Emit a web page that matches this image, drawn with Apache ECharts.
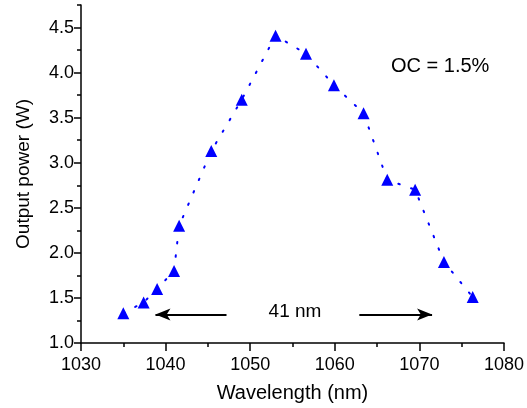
<!DOCTYPE html>
<html>
<head>
<meta charset="utf-8">
<script src="https://cdn.jsdelivr.net/npm/echarts@6/dist/echarts.min.js"></script>
<style>
  html, body { margin: 0; padding: 0; background: #fff; }
  #chart { width: 527px; height: 408px; }
</style>
</head>
<body>
<div id="chart"></div>
<script>
// wavelength (nm) and output power (W)
const wavelength = [1035.0, 1037.4, 1039.0, 1041.0, 1041.6, 1045.4, 1049.0, 1053.0, 1056.6, 1059.9, 1063.4, 1066.2, 1069.5, 1072.9, 1076.3];
const power      = [1.33, 1.45, 1.60, 1.80, 2.30, 3.13, 3.70, 4.41, 4.21, 3.86, 3.55, 2.81, 2.70, 1.90, 1.51];

const xTicks = [1030, 1040, 1050, 1060, 1070, 1080];
const yMajorTicks = [1.0, 1.5, 2.0, 2.5, 3.0, 3.5, 4.0, 4.5];

// the two arrows marking the 41 nm span
const arrowY = 1.316;
const leftArrow = [1047.2, 1038.8];
const rightArrow = [1062.9, 1071.5];

const FONT = 'Liberation Sans, Arial, sans-serif';

const chart = echarts.init(document.getElementById('chart'));

chart.setOption({
  animation: false,
  grid: { left: 81, right: 23, top: 5, bottom: 64 },
  xAxis: {
    type: 'value',
    min: xTicks[0],
    max: xTicks[xTicks.length - 1],
    interval: 10,
    name: 'Wavelength (nm)',
    nameLocation: 'middle',
    nameGap: 40,
    nameTextStyle: { color: '#000', fontSize: 20, fontFamily: FONT },
    axisLine: { lineStyle: { color: '#000', width: 1.5 } },
    axisTick: { length: 8, lineStyle: { color: '#000', width: 1.5 } },
    minorTick: { show: true, splitNumber: 2, length: 4, lineStyle: { color: '#000', width: 1.5 } },
    axisLabel: { color: '#000', fontSize: 18, fontFamily: FONT, margin: 13, formatter: v => String(v) },
    splitLine: { show: false }
  },
  yAxis: [{
    type: 'value',
    min: 1,
    max: 4.75,
    interval: 0.25,
    name: 'Output power (W)',
    nameLocation: 'middle',
    nameGap: 48,
    nameTextStyle: { color: '#000', fontSize: 19, fontFamily: FONT },
    axisLine: { show: true, lineStyle: { color: '#000', width: 1.5 } },
    axisTick: { length: 4, lineStyle: { color: '#000', width: 1.5 } },
    axisLabel: {
      color: '#000', fontSize: 18, fontFamily: FONT, margin: 7,
      formatter: v => (yMajorTicks.some(t => Math.abs(t - v) < 1e-6) ? v.toFixed(1) : '')
    },
    splitLine: { show: false }
  }, {
    // only carries the longer major ticks
    type: 'value',
    position: 'left',
    min: 1,
    max: 4.75,
    axisLine: { show: false },
    axisTick: { show: true, length: 7, customValues: yMajorTicks, lineStyle: { color: '#000', width: 1.5 } },
    axisLabel: { show: false },
    splitLine: { show: false }
  }],
  series: [{
    type: 'line',
    data: wavelength.map((w, i) => [w, power[i]]),
    symbol: 'triangle',
    symbolSize: 12,
    itemStyle: { color: '#0000ff' },
    lineStyle: { color: '#0000ff', width: 2, type: [1.5, 12], cap: 'round' },
    markLine: {
      silent: true,
      symbol: ['none', 'arrow'],
      symbolSize: [9, 15],
      label: { show: false },
      lineStyle: { color: '#000', width: 2, type: 'solid' },
      data: [
        [{ coord: [leftArrow[0], arrowY] }, { coord: [leftArrow[1], arrowY] }],
        [{ coord: [rightArrow[0], arrowY] }, { coord: [rightArrow[1], arrowY] }]
      ]
    }
  }],
  graphic: [{
    type: 'text',
    x: 391, y: 66,
    style: { text: 'OC = 1.5%', fill: '#000', font: '20px ' + FONT, textVerticalAlign: 'middle' }
  }, {
    type: 'text',
    x: 295, y: 312,
    style: { text: '41 nm', fill: '#000', font: '19px ' + FONT, textAlign: 'center', textVerticalAlign: 'middle' }
  }]
});
</script>
</body>
</html>
